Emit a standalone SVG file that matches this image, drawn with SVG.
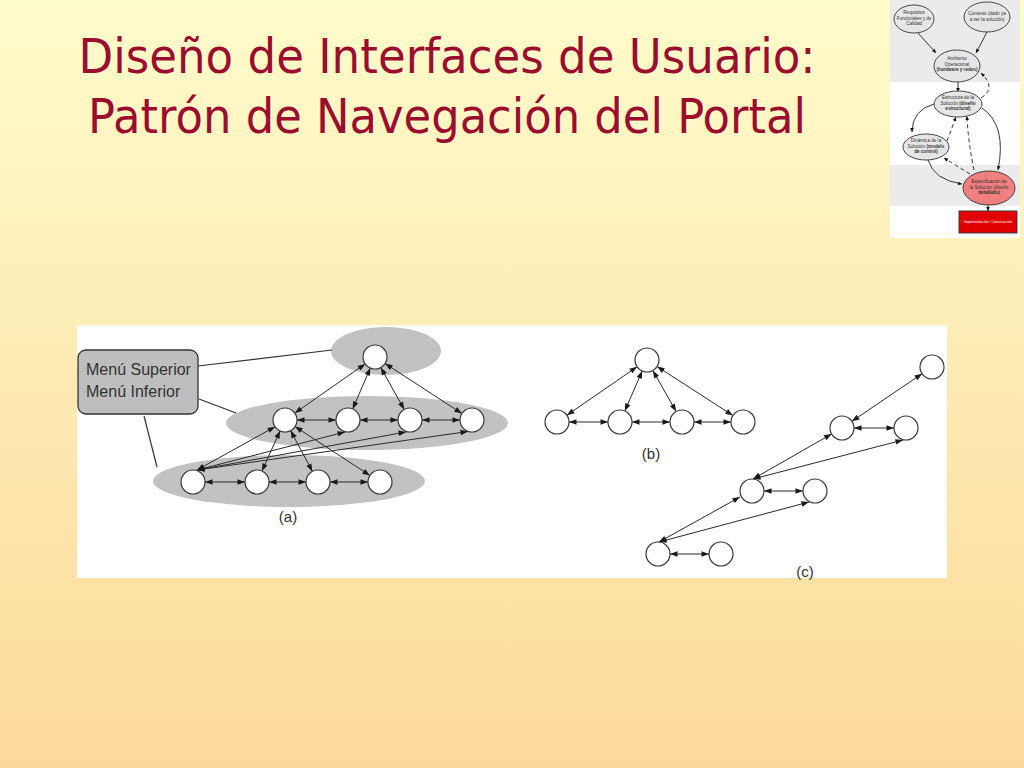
<svg xmlns="http://www.w3.org/2000/svg" width="1024" height="768" viewBox="0 0 1024 768">
<defs>
<linearGradient id="bg" x1="0" y1="0" x2="0" y2="1">
<stop offset="0" stop-color="#FFFCCB"/>
<stop offset="1" stop-color="#FCD99A"/>
</linearGradient>
<marker id="ah" markerUnits="userSpaceOnUse" markerWidth="10" markerHeight="10" viewBox="-9 -5 10 10" refX="0" refY="0" orient="auto-start-reverse">
<path d="M0,0 L-7.5,-2.8 L-7.5,2.8 Z" fill="#1a1a1a"/>
</marker>
<marker id="ahs" markerUnits="userSpaceOnUse" markerWidth="6" markerHeight="6" viewBox="-5 -3 6 6" refX="0" refY="0" orient="auto">
<path d="M0,0 L-4,-1.8 L-4,1.8 Z" fill="#111"/>
</marker>
<style>
.title{font-family:"DejaVu Sans","Liberation Sans",sans-serif;font-size:48px;fill:#9B0D2E;}
.e{stroke:#2a2a2a;stroke-width:1;fill:none;marker-start:url(#ah);marker-end:url(#ah);}
.lead{stroke:#333;stroke-width:1.2;fill:none;}
.n{fill:#fff;stroke:#3a3a3a;stroke-width:1.2;}
.grp{fill:#C2C2C2;}
.lbl{font-family:"Liberation Sans",Arial,sans-serif;font-size:15px;fill:#333;text-anchor:middle;}
.box{font-family:"Liberation Sans",Arial,sans-serif;font-size:16px;fill:#333;}
.t{font-family:"Liberation Sans",Arial,sans-serif;font-size:4.6px;fill:#333;text-anchor:middle;}
.tb{font-weight:bold;}
.te{stroke:#222;stroke-width:0.9;fill:none;marker-end:url(#ahs);}
.td{stroke:#222;stroke-width:0.9;fill:none;stroke-dasharray:4,3;marker-end:url(#ahs);}
.tn{fill:#E6E6E6;stroke:#333;stroke-width:0.9;}
</style>
</defs>

<rect x="0" y="0" width="1024" height="768" fill="url(#bg)"/>

<g id="title">
<text class="title" x="447" y="73" text-anchor="middle" textLength="737" lengthAdjust="spacingAndGlyphs">Diseño de Interfaces de Usuario:</text>
<text class="title" x="447" y="133" text-anchor="middle" textLength="718" lengthAdjust="spacingAndGlyphs">Patrón de Navegación del Portal</text>
</g>

<!-- Thumbnail process diagram -->
<g id="thumbnail">
<rect x="890" y="0" width="130" height="238" fill="#fff"/>
<rect x="890" y="0" width="130" height="82" fill="#EBEBEB"/>
<rect x="890" y="165" width="130" height="41" fill="#EBEBEB"/>
<g id="thumb-connectors">
<path class="te" d="M918,33 L936,53"/>
<path class="te" d="M987,32 L976,53"/>
<path class="te" d="M958,82 L958,92"/>
<path class="td" d="M981,98 Q997,88 981,73"/>
<path class="te" d="M934,104 Q912,110 912,132"/>
<path class="td" d="M947,141 L956,117"/>
<path class="td" d="M974,170 Q968,142 967,116"/>
<path class="td" d="M970,174 L944,158"/>
<path class="te" d="M928,160 Q934,180 962,184"/>
<path class="te" d="M982,108 Q1007,125 998,170"/>
<path class="te" d="M988,205 L988,211"/>
</g>
<g id="t-requisitos">
<ellipse class="tn" cx="914" cy="19" rx="20" ry="14"/>
<text class="t" x="914" y="14">Requisitos</text>
<text class="t" x="914" y="19.5">Funcionales y de</text>
<text class="t" x="914" y="25">Calidad</text>
</g>
<g id="t-contexto">
<ellipse class="tn" cx="987" cy="17" rx="23" ry="15"/>
<text class="t" x="987" y="15">Contexto (dado ya</text>
<text class="t" x="987" y="20.5">a ser la solución)</text>
</g>
<g id="t-ambiente">
<ellipse class="tn" cx="957" cy="66" rx="23" ry="16"/>
<text class="t" x="957" y="60">Ambiente</text>
<text class="t" x="957" y="65.5">Operacional</text>
<text class="t tb" x="957" y="71">(hardware y redes)</text>
</g>
<g id="t-estructura">
<ellipse class="tn" cx="958" cy="104" rx="24" ry="13"/>
<text class="t" x="958" y="99">Estructura de la</text>
<text class="t" x="958" y="104.5">Solución <tspan class="tb">(diseño</tspan></text>
<text class="t tb" x="958" y="110">estructural)</text>
</g>
<g id="t-dinamica">
<ellipse class="tn" cx="926" cy="147" rx="23" ry="13"/>
<text class="t" x="926" y="142">Dinámica de la</text>
<text class="t" x="926" y="147.5">Solución <tspan class="tb">(modelo</tspan></text>
<text class="t tb" x="926" y="153">de control)</text>
</g>
<g id="t-especificacion">
<ellipse cx="989" cy="188" rx="26" ry="17" fill="#F08080" stroke="#333" stroke-width="0.9"/>
<text class="t" x="989" y="183">Especificación de</text>
<text class="t" x="989" y="188.5">la Solución (diseño</text>
<text class="t tb" x="989" y="194">detallado)</text>
</g>
<g id="t-implementacion">
<rect x="959" y="211" width="58" height="22" fill="#E00000" stroke="#333" stroke-width="0.9"/>
<text class="t" x="988" y="223.3" style="fill:#fff;font-size:3.5px">Implementación / Construcción</text>
</g>
</g>

<!-- Main panel -->
<rect x="77" y="325" width="870" height="253" fill="#fff"/>

<g id="groups-a">
<ellipse class="grp" cx="386" cy="351" rx="55" ry="24"/>
<ellipse class="grp" cx="367" cy="423" rx="141" ry="27"/>
<ellipse class="grp" cx="289" cy="481" rx="136" ry="26"/>
</g>

<g id="callout">
<rect x="78" y="350" width="120" height="64" rx="8" ry="8" fill="#BEBEBE" stroke="#333" stroke-width="1.3"/>
<text class="box" x="86" y="375">Menú Superior</text>
<text class="box" x="86" y="397">Menú Inferior</text>
</g>

<g id="connectors">
<path class="lead" d="M198,366 L332,350"/>
<path class="lead" d="M199,399 L236,413"/>
<path class="lead" d="M144,416 L157,467"/>
<!-- (a) -->
<path class="e" d="M365.2,363.9 L294.8,413.1"/>
<path class="e" d="M370.3,368 L352.7,409"/>
<path class="e" d="M380.8,367.5 L404.2,409.5"/>
<path class="e" d="M385.1,363.5 L461.9,413.5"/>
<path class="e" d="M297,420 L336,420"/>
<path class="e" d="M360,420 L398,420"/>
<path class="e" d="M422,420 L460,420"/>
<path class="e" d="M275.1,426.7 L197,470"/>
<path class="e" d="M280.1,430.9 L261.9,471.1"/>
<path class="e" d="M290.6,430.6 L312.4,471.4"/>
<path class="e" d="M295.1,426.6 L369.9,475.4"/>
<path class="e" d="M197,470 L345,432"/>
<path class="e" d="M197,470 L406,432"/>
<path class="e" d="M197,470 L468,431.5"/>
<path class="e" d="M205,482 L245,482"/>
<path class="e" d="M269,482 L306,482"/>
<path class="e" d="M330,482 L368,482"/>
<!-- (b) -->
<path class="e" d="M637.1,366.8 L566.9,415.2"/>
<path class="e" d="M642.2,371 L624.8,411"/>
<path class="e" d="M652.9,370.5 L676.1,411.5"/>
<path class="e" d="M657.1,366.5 L732.9,415.5"/>
<path class="e" d="M569,422 L608,422"/>
<path class="e" d="M632,422 L670,422"/>
<path class="e" d="M694,422 L731,422"/>
<!-- (c) -->
<path class="e" d="M851.9,421.3 L922.1,373.7"/>
<path class="e" d="M854,428 L894,428"/>
<path class="e" d="M753,479 L831.6,434"/>
<path class="e" d="M753,479 L903,440"/>
<path class="e" d="M764,491 L803,491"/>
<path class="e" d="M659,542 L740,497"/>
<path class="e" d="M659,542 L809,502"/>
<path class="e" d="M670,554 L709,554"/>
</g>

<g id="nodes-a">
<circle id="a-top" class="n" cx="375" cy="357" r="12"/>
<circle id="a-m1" class="n" cx="285" cy="420" r="12"/>
<circle id="a-m2" class="n" cx="348" cy="420" r="12"/>
<circle id="a-m3" class="n" cx="410" cy="420" r="12"/>
<circle id="a-m4" class="n" cx="472" cy="420" r="12"/>
<circle id="a-b1" class="n" cx="193" cy="482" r="12"/>
<circle id="a-b2" class="n" cx="257" cy="482" r="12"/>
<circle id="a-b3" class="n" cx="318" cy="482" r="12"/>
<circle id="a-b4" class="n" cx="380" cy="482" r="12"/>
</g>
<g id="nodes-b">
<circle id="b-top" class="n" cx="647" cy="360" r="12"/>
<circle id="b-1" class="n" cx="557" cy="422" r="12"/>
<circle id="b-2" class="n" cx="620" cy="422" r="12"/>
<circle id="b-3" class="n" cx="682" cy="422" r="12"/>
<circle id="b-4" class="n" cx="743" cy="422" r="12"/>
</g>
<g id="nodes-c">
<circle id="c-1" class="n" cx="932" cy="367" r="12"/>
<circle id="c-2" class="n" cx="842" cy="428" r="12"/>
<circle id="c-3" class="n" cx="906" cy="428" r="12"/>
<circle id="c-4" class="n" cx="752" cy="491" r="12"/>
<circle id="c-5" class="n" cx="815" cy="491" r="12"/>
<circle id="c-6" class="n" cx="658" cy="554" r="12"/>
<circle id="c-7" class="n" cx="721" cy="554" r="12"/>
</g>

<g id="labels">
<text class="lbl" x="288" y="522">(a)</text>
<text class="lbl" x="651" y="459">(b)</text>
<text class="lbl" x="805" y="577">(c)</text>
</g>
</svg>
